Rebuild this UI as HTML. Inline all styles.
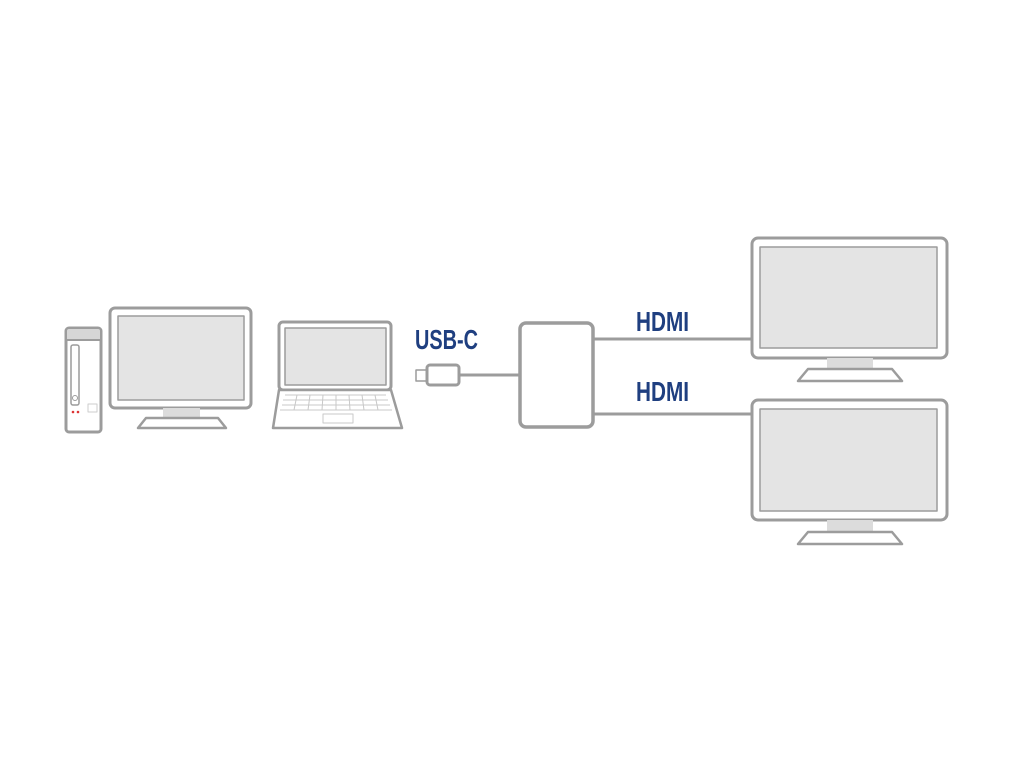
<!DOCTYPE html>
<html><head><style>html,body{margin:0;padding:0;background:#fff;width:1024px;height:768px;overflow:hidden}</style></head>
<body>
<svg width="1024" height="768" viewBox="0 0 1024 768" xmlns="http://www.w3.org/2000/svg">
<g fill="none" stroke="#9c9c9c" stroke-width="3" stroke-linejoin="round">
<rect x="66" y="328" width="35" height="104" rx="3" fill="#fff"/>
<path d="M66 340 L66 331 Q66 328 69 328 L98 328 Q101 328 101 331 L101 340 Z" fill="#d6d6d6" stroke-width="2"/>
<rect x="71" y="345" width="8" height="60" rx="2" stroke-width="1.5"/>
<circle cx="75" cy="398" r="2.5" stroke-width="1"/>
<rect x="88" y="404" width="9" height="8" stroke="#ccc" stroke-width="1"/>
<rect x="110" y="308" width="141" height="100" rx="5" fill="#fff"/>
<rect x="118" y="316" width="126" height="84" fill="#e4e4e4" stroke-width="1.5"/>
<rect x="163" y="408" width="37" height="10" fill="#dcdcdc" stroke="none"/>
<path d="M146 418 L218 418 L226 428 L138 428 Z" fill="#fff" stroke-width="2.5"/>
<rect x="279" y="322" width="112" height="68" rx="4" fill="#fff"/>
<rect x="285" y="328" width="101" height="57" fill="#e4e4e4" stroke-width="1.5"/>
<path d="M279 390 L391 390 L402 428 L273 428 Z" fill="#fff" stroke-width="2.5"/>
<g stroke="#c8c8c8" stroke-width="1">
<path d="M285 395 L386 395 M283 400 L388 400 M282 405 L390 405 M280 410 L392 410"/>
<path d="M297 395 L294 410 M310 395 L308 410 M323 395 L322 410 M336 395 L336 410 M349 395 L350 410 M362 395 L364 410 M375 395 L378 410"/>
<rect x="323" y="414" width="30" height="9"/>
</g>
<rect x="416" y="370" width="11" height="11" fill="#fff" stroke-width="1.5"/>
<rect x="427" y="365" width="32" height="20" rx="3" fill="#fff"/>
<path d="M459 375 L520 375"/>
<rect x="520" y="323" width="73" height="104" rx="6" fill="#fff" stroke-width="3.5"/>
<path d="M593 339 L752 339 M593 414 L752 414"/>
<rect x="752" y="238" width="195" height="120" rx="6" fill="#fff"/>
<rect x="760" y="247" width="177" height="101" fill="#e4e4e4" stroke-width="1.5"/>
<rect x="827" y="358" width="46" height="11" fill="#dcdcdc" stroke="none"/>
<path d="M808 369 L892 369 L902 381 L798 381 Z" fill="#fff" stroke-width="2.5"/>
<rect x="752" y="400" width="195" height="120" rx="6" fill="#fff"/>
<rect x="760" y="409" width="177" height="102" fill="#e4e4e4" stroke-width="1.5"/>
<rect x="827" y="520" width="46" height="12" fill="#dcdcdc" stroke="none"/>
<path d="M808 532 L892 532 L902 544 L798 544 Z" fill="#fff" stroke-width="2.5"/>
</g>
<circle cx="73" cy="412" r="1.3" fill="#d33"/><circle cx="78" cy="412" r="1.3" fill="#d33"/>
<g fill="#1f3f80" font-family="'Liberation Sans Narrow','Liberation Sans',sans-serif" font-weight="bold" font-size="28">
<text x="415" y="349" textLength="63" lengthAdjust="spacingAndGlyphs">USB-C</text>
<text x="636" y="331" textLength="53" lengthAdjust="spacingAndGlyphs">HDMI</text>
<text x="636" y="401" textLength="53" lengthAdjust="spacingAndGlyphs">HDMI</text>
</g>
</svg>
</body></html>
